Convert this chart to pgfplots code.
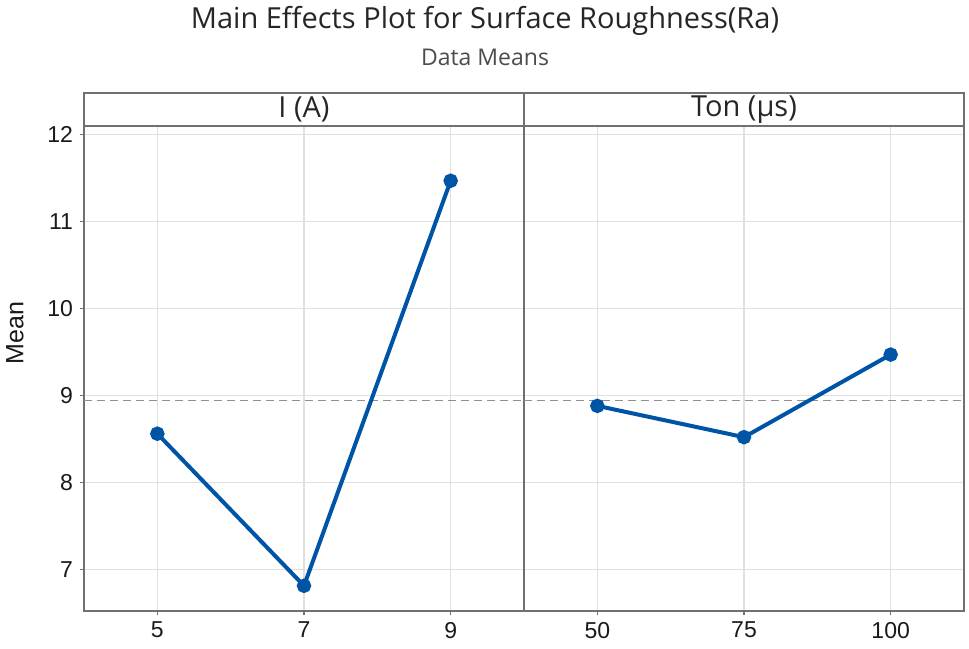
\documentclass[border=0pt]{standalone}
\usepackage{pgfplots}
\pgfplotsset{compat=1.18}
\usepackage{fontspec}
\setmainfont{Open Sans}
\newfontfamily\tickfont{Liberation Sans}
\definecolor{lineblue}{HTML}{0054A6}
\definecolor{framegray}{HTML}{707070}
\definecolor{gridgray}{HTML}{E0E0E0}
\definecolor{refgray}{HTML}{909090}

\pgfplotsset{
  mainfx/.style={
    scale only axis,
    width=220pt, height=242.5pt,
    xmin=0.5, xmax=3.5,
    ymin=6.52, ymax=12.1,
    xtick={1,2,3},
    ytick={7,8,9,10,11,12},
    grid=major,
    major grid style={gridgray, line width=0.6pt},
    axis line style={framegray, line width=0.7pt},
    tick style={framegray, line width=0.6pt},
    major tick length=2pt,
    tick align=outside,
    tick pos=left,
    tick label style={font=\tickfont\fontsize{11.5}{13}\selectfont, text=black!90},
    /pgf/number format/assume math mode=true,
    clip=false,
  },
}

\begin{document}
\begin{tikzpicture}
\begin{axis}[mainfx,
    xticklabels={5,7,9},
    ylabel={Mean},
    ylabel style={at={(axis description cs:-0.157,0.573)}, anchor=center,
      font=\tickfont\fontsize{12.5}{14}\selectfont, text=black!90},
  ]
  \addplot[refgray, dashed, dash pattern=on 4pt off 2.5pt, line width=0.6pt]
    coordinates {(0.5,8.94) (3.5,8.94)};
  \addplot[lineblue, line width=2pt, mark=*, mark size=2.6pt,
    mark options={fill=lineblue, draw=lineblue}]
    coordinates {(1,8.56) (2,6.81) (3,11.47)};
  \draw[framegray, line width=0.7pt] (rel axis cs:0,1) rectangle (rel axis cs:1,1.068);
  \node[font=\fontsize{14.5}{16}\selectfont, text=black!85] at (rel axis cs:0.5,1.034) {I (A)};
\end{axis}
\begin{axis}[mainfx, at={(220pt,0)},
    xticklabels={50,75,100},
    yticklabels={},
    ytick style={draw=none},
  ]
  \addplot[refgray, dashed, dash pattern=on 4pt off 2.5pt, line width=0.6pt]
    coordinates {(0.5,8.94) (3.5,8.94)};
  \addplot[lineblue, line width=2pt, mark=*, mark size=2.6pt,
    mark options={fill=lineblue, draw=lineblue}]
    coordinates {(1,8.88) (2,8.52) (3,9.47)};
  \draw[framegray, line width=0.7pt] (rel axis cs:0,1) rectangle (rel axis cs:1,1.068);
  \node[font=\fontsize{14.5}{16}\selectfont, text=black!85] at (rel axis cs:0.5,1.034) {Ton (μs)};
\end{axis}
\node[font=\fontsize{14.5}{17}\selectfont, text=black!85] at (200.5pt,295pt) {Main Effects Plot for Surface Roughness(Ra)};
\node[font=\fontsize{11.5}{14}\selectfont, text=black!70] at (200.5pt,277pt) {Data Means};
\pgfresetboundingbox
\path (-42pt,-18.5pt) rectangle (442.5pt,305.5pt);
\end{tikzpicture}
\end{document}
